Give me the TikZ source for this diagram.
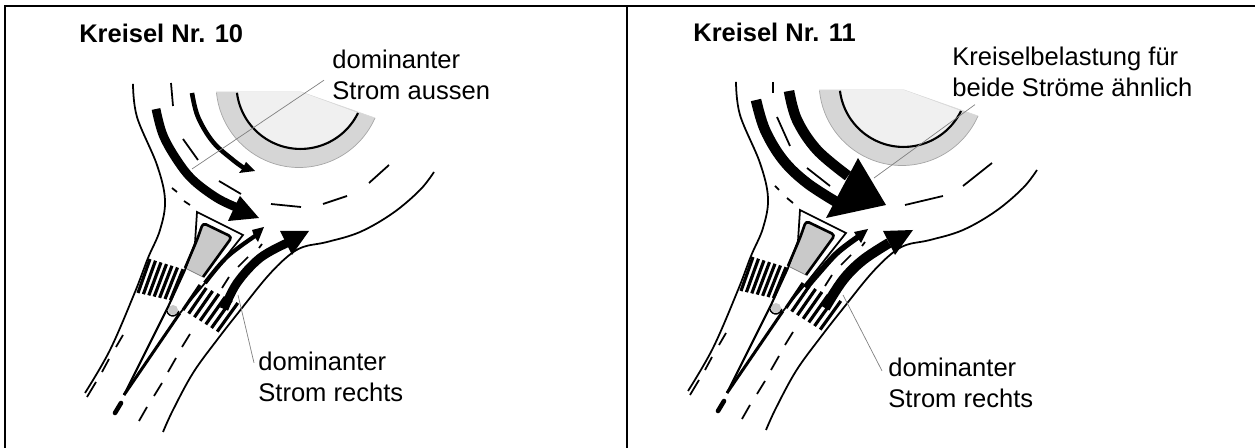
\documentclass[tikz,border=0pt]{standalone}
\usepackage{fontspec}
\setmainfont{Liberation Sans}

\tikzset{
  rahmen/.style={line width=1.1pt},
  strasse/.style={line width=1pt},
  spur/.style={line width=1pt},
  strom/.style={line width=#1},
  kopf/.style={fill=black},
  leit/.style={line width=0.4pt,gray},
  txt/.style={inner sep=0pt,anchor=base west,font=\fontsize{14.55}{17.8}\selectfont},
  titel/.style={txt,font=\fontsize{14.5}{17.8}\selectfont\bfseries},
  zweizeilig/.style={txt,align=left}
}

% everything the two roundabouts share
\newcommand{\kreiselbasis}{
  % central island
  \fill[gray!32] (216,-92)--(301,-92)--(375,-118) arc (336.2:185.6:83)--cycle;
  \draw[leit,gray!70] (375,-118) arc (336.2:185.6:83);
  \draw[leit,gray!30] (216,-92)--(301,-92)--(375,-118);
  \fill[gray!12] (235,-92)--(301,-92)--(358,-113) arc (334:187:64)--cycle;
  \draw[line width=1.2pt] (358,-113) arc (334:187:64);

  % road edges
  \draw[strasse] plot[smooth,tension=.6] coordinates {(133,-84) (137,-117) (157,-165) (165,-200) (160,-230) (148,-258) (135,-292) (110,-350) (85,-393)};
  \draw[strasse] plot[smooth,tension=.6] coordinates {(434,-172) (420,-190) (393,-213) (360,-232) (327,-242) (303,-247) (287,-257) (267,-277) (242,-308) (217,-340) (193,-373) (173,-410) (163,-432)};

  % crossings
  \foreach \i in {0,...,6}
    \draw[line width=1.8pt] ({150+5.5*\i},{-259-1.7*\i})--({138+5.4*\i},{-293-1.2*\i});
  \foreach \i in {0,...,6}
    \draw[line width=1.8pt] ({200+6.3*\i},{-285-3*\i})--({183+5.7*\i},{-310-3.6*\i});

  % splitter island
  \fill[gray!42,rounded corners=2] (203,-223)--(232,-237)--(203,-277)--(185,-268)--cycle;
  \draw[leit] (185,-268)--(203,-277);
  \draw[line width=1.5pt,rounded corners=2] (185,-268)--(197,-240)--(203,-223)--(232,-237)--(203,-277);
  \draw[line width=1pt] (185,-270)--(195,-243)--(197,-212)--(243,-235)--(205,-283)--(180,-313);

  % wedge
  \fill[gray!42] (173,-310) circle (5);
  \draw[line width=0.8pt] (167,-311) arc (190:350:6);
  \draw[line width=1.2pt] (185,-270)--(168,-307)--(124,-395);
  \draw[line width=1.7pt] (180,-313)--(124,-395);
  \draw[line width=2.6pt,line cap=round] (121,-403)--(115,-413);

  % lane dashes on the approaches
  \foreach \xa/\ya/\xb/\yb in {123/335/116/347,109/359/102/372,96/382/87/397,
      190/334/182/347,176/358/168/372,162/383/154/396,147/407/139/421,
      238/267/248/257,222/288/229/277,259/248/262/244}
    \draw[spur] (\xa,-\ya)--(\xb,-\yb);
}

\begin{document}
\begin{tikzpicture}[x=0.02cm,y=0.02cm]
  \useasboundingbox (0,0) rectangle (1255,-448);

  \draw[rahmen] (5,-448)--(5,-6)--(1255,-6);
  \draw[rahmen] (627,-6)--(627,-448);

  %%% Kreisel 10
  \kreiselbasis
  \foreach \xa/\ya/\xb/\yb in {171/83/173/106,183/139/198/160,219/181/241/194,271/204/301/207,
      323/204/347/196,369/183/389/165,172/188/177/192,184/201/190/205}
    \draw[spur] (\xa,-\ya)--(\xb,-\yb);

  \draw[strom=5pt] plot[smooth,tension=.6] coordinates {(156,-109) (163,-135) (177,-160) (193,-180) (217,-198) (238,-208)};
  \fill[kopf] (259,-218)--(240,-196)--(234,-208)--(228,-221)--cycle;
  \draw[strom=2.6pt] plot[smooth,tension=.6] coordinates {(192,-93) (198,-117) (213,-142) (233,-160) (244,-168)};
  \fill[kopf] (255,-171)--(246,-162)--(243,-168)--(239,-173)--cycle;
  \draw[strom=2.4pt] plot[smooth,tension=.6] coordinates {(255,-236) (227,-257) (205,-283)};
  \fill[kopf] (264,-227)--(252,-230)--(254,-236)--(258,-242)--cycle;
  \draw[strom=5pt] plot[smooth,tension=.6] coordinates {(287,-243) (260,-258) (237,-283) (224,-309)};
  \fill[kopf] (309,-231)--(280,-231)--(286,-243)--(292,-255)--cycle;

  \node[titel] (titel10) at (79,-43) {Kreisel Nr. 10};
  \node[zweizeilig] (labelAussen) at (332,-100) {dominanter\\Strom aussen};
  \node[zweizeilig] (labelRechts10) at (258,-402) {dominanter\\Strom rechts};
  \coordinate (endAussen) at (192,-169);
  \coordinate (endRechts10) at (238,-295);
  \draw[leit] ([shift={(-8,-5)}]labelAussen.west)--(endAussen);
  \draw[leit] ([shift={(-4,-11)}]labelRechts10.north west)--(endRechts10);

  %%% Kreisel 11
  \begin{scope}[shift={(603,2)}]
    \kreiselbasis
  \end{scope}
  \foreach \xa/\ya/\xb/\yb in {773/82/773/93,777/117/790/146,807/168/830/186,905/205/943/196,
      963/186/992/163,775/186/779/190,787/198/793/203}
    \draw[spur] (\xa,-\ya)--(\xb,-\yb);

  \draw[strom=6pt] plot[smooth,tension=.6] coordinates {(756,-100) (765,-130) (783,-160) (807,-183) (838,-203)};
  \draw[strom=6pt] plot[smooth,tension=.6] coordinates {(789,-91) (797,-120) (817,-150) (848,-176)};
  \fill[kopf] (886,-205)--(858,-158)--(826,-218)--cycle;
  \draw[strom=3.2pt] plot[smooth,tension=.6] coordinates {(858,-237) (837,-253) (817,-275) (806,-288)};
  \fill[kopf] (868,-229)--(854,-232)--(857,-237)--(861,-243)--cycle;
  \draw[strom=5.8pt] plot[smooth,tension=.6] coordinates {(889,-243) (863,-260) (843,-280) (825,-308)};
  \fill[kopf] (913,-230)--(883,-231)--(889,-243)--(895,-255)--cycle;

  \node[titel] (titel11) at (693,-42) {Kreisel Nr. 11};
  \node[zweizeilig] (labelBeide) at (952,-97) {Kreiselbelastung für\\beide Ströme ähnlich};
  \node[zweizeilig] (labelRechts11) at (888,-408) {dominanter\\Strom rechts};
  \coordinate (endBeide) at (874,-178);
  \coordinate (endRechts11) at (843,-295);
  \draw[leit] ([shift={(23,-7)}]labelBeide.south west)--(endBeide);
  \draw[leit] ([shift={(-6,-13)}]labelRechts11.north west)--(endRechts11);
\end{tikzpicture}
\end{document}
